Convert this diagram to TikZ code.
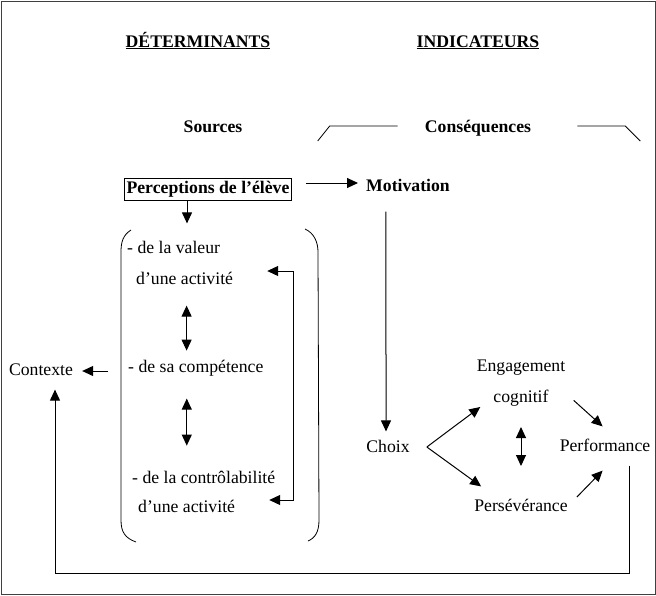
\documentclass[tikz,border=0pt]{standalone}
\usepackage{fontspec}
\setmainfont{Liberation Serif}
\usetikzlibrary{arrows.meta,positioning}

\begin{document}
\begin{tikzpicture}[x=1pt, y=-1pt,
  lbl/.style={font=\fontsize{17.7}{21}\selectfont, inner sep=0pt, text height=12.4pt, text depth=4.4pt},
  head/.style={lbl, font=\fontsize{17.7}{21}\selectfont\bfseries},
  box/.style={head, draw, line width=0.8pt, inner xsep=2pt, inner ysep=2.6pt},
  arr/.style={-{Triangle[length=11pt,width=10pt]}, line width=1pt},
  dbl/.style={{Triangle[length=11pt,width=10pt]}-{Triangle[length=11pt,width=10pt]}, line width=1pt}
]
  \useasboundingbox (0,0) rectangle (656,595);
  \draw[line width=0.8pt, black!75] (1,1) rectangle (655,594);

  % Headings
  \node[head] (det) at (198,43) {\underline{DÉTERMINANTS}};
  \node[head] (ind) at (478,43) {\underline{INDICATEURS}};
  \node[head] (src) at (213,128) {Sources};
  \node[head] (csq) at (478,128) {Conséquences};
  \draw[line width=0.8pt] ([xshift=-27pt,yshift=2pt]csq.west) -- ++(-68,0) -- ++(-12,15);
  \draw[line width=0.8pt] ([xshift=46pt,yshift=2pt]csq.east) -- ++(48,0) -- ++(15,15);

  % Sources
  \node[box] (perc) at (208,189) {Perceptions de l’élève};
  \node[head, anchor=west] (mot) at (366,187) {Motivation};
  \draw[arr] ([xshift=14pt,yshift=6pt]perc.east) -- ([xshift=-8pt,yshift=4pt]mot.west);
  \draw[arr] ([xshift=-21pt]perc.south) -- ++(0,23);

  \draw[line width=0.8pt] (131,230) .. controls (123,235) and (121,242) .. (121,252) -- (121,520)
    .. controls (121,532) and (125,538) .. (136,542);
  \draw[line width=0.8pt] (305,229) .. controls (314,233) and (318,242) .. (318,252) -- (319,520)
    .. controls (319,532) and (315,538) .. (308,541);

  \node[lbl, anchor=west] (val) at (127,249) {- de la valeur};
  \node[lbl, anchor=west] (val2) at (136,280) {d’une activité};
  \node[lbl, anchor=west] (comp) at (128,368) {- de sa compétence};
  \node[lbl, anchor=west] (ctrl) at (132,479) {- de la contrôlabilité};
  \node[lbl, anchor=west] (ctrl2) at (138,508) {d’une activité};

  \draw[dbl] ([xshift=2pt,yshift=-17pt]val2.south) -- ++(0,45);
  \draw[dbl] ([xshift=-9pt,yshift=-22pt]comp.south) -- ++(0,47);
  \draw[dbl] ([shift={(34pt,8pt)}]ctrl2.east) -- ++(24,0) |- ([shift={(34pt,9pt)}]val2.east);

  \node[lbl] (ctx) at (41,371) {Contexte};
  \draw[arr] ([xshift=-20pt,yshift=-3pt]comp.west) -- ([xshift=9pt]ctx.east);

  % Consequences
  \node[lbl] (choix) at (388,448) {Choix};
  \draw[arr] ([xshift=-22pt,yshift=-16pt]mot.south) -- ([xshift=-2pt,yshift=8pt]choix.north);

  \node[lbl] (eng) at (521,367) {Engagement};
  \node[lbl, below=14.2pt of eng] (cog) {cognitif};
  \node[lbl] (perf) at (605,447) {Performance};
  \node[lbl] (pers) at (521,507) {Persévérance};

  \draw[arr] ([xshift=17pt,yshift=1pt]choix.east) -- ([xshift=-13pt]cog.south west);
  \draw[arr] ([xshift=17pt,yshift=1pt]choix.east) -- ([shift={(7pt,12pt)}]pers.north west);
  \draw[dbl] ([yshift=-20pt]cog.south) -- ++(0,39);
  \draw[arr] ([xshift=25pt,yshift=-2pt]cog.east) -- ([shift={(43pt,12pt)}]perf.north west);
  \draw[arr] ([shift={(9pt,10pt)}]pers.east) -- ([shift={(43pt,-15pt)}]perf.south west);

  % back to context
  \draw[arr] ([shift={(24pt,-10pt)}]perf.south) -- ++(0,108) -| ([shift={(14pt,-10pt)}]ctx.south);
\end{tikzpicture}
\end{document}
